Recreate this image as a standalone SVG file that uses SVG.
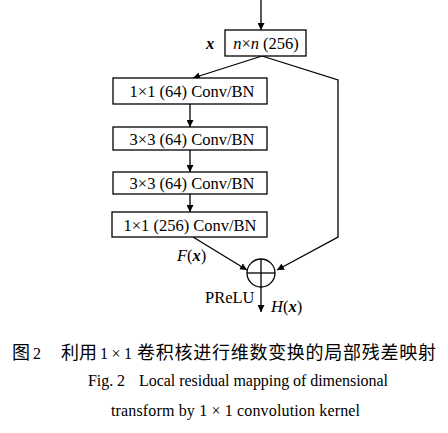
<svg xmlns="http://www.w3.org/2000/svg" width="448" height="433" viewBox="0 0 448 433">
<style>
.box{fill:#fff;stroke:#000;stroke-width:1.3}
.ln{fill:none;stroke:#000;stroke-width:1.3}
.t{font-family:"Liberation Serif",serif;font-size:16.5px;fill:#000}
.i{font-style:italic}
.cn{font-family:"Noto Sans CJK SC",sans-serif;font-size:18px;fill:#000}
.en{font-family:"Liberation Serif",serif;font-size:16px;fill:#000}
</style>
<defs>
<marker id="ah" viewBox="0 0 10 10" refX="10" refY="5" markerWidth="7" markerHeight="7" markerUnits="userSpaceOnUse" orient="auto">
<path d="M0,0 L10,5 L0,10 z" fill="#000"/>
</marker>
</defs>
<rect width="448" height="433" fill="#fff"/>
<g id="connectors">
<line class="ln" x1="261" y1="0" x2="261" y2="30" marker-end="url(#ah)"/>
<polyline class="ln" points="262,56 193,78" marker-end="url(#ah)"/>
<polyline class="ln" points="262,56 338,80 338,237 277,270" marker-end="url(#ah)"/>
<line class="ln" x1="190" y1="104" x2="190" y2="127" marker-end="url(#ah)"/>
<line class="ln" x1="190" y1="150" x2="190" y2="172" marker-end="url(#ah)"/>
<line class="ln" x1="190" y1="194" x2="190" y2="212" marker-end="url(#ah)"/>
<line class="ln" x1="193" y1="237" x2="247" y2="270" marker-end="url(#ah)"/>
<line class="ln" x1="261" y1="287" x2="261" y2="312" marker-end="url(#ah)"/>
</g>
<g id="input">
<rect class="box" x="225" y="30" width="81" height="26"/>
<text class="t" x="266" y="49" text-anchor="middle"><tspan class="i">n</tspan>×<tspan class="i">n</tspan> (256)</text>
<text class="t i" x="206" y="49" font-weight="bold">x</text>
</g>
<g id="conv1">
<rect class="box" x="113" y="78" width="154" height="26"/>
<text class="t" x="192" y="97" text-anchor="middle">1×1 (64) Conv/BN</text>
</g>
<g id="conv2">
<rect class="box" x="113" y="127" width="154" height="23"/>
<text class="t" x="192" y="144.5" text-anchor="middle">3×3 (64) Conv/BN</text>
</g>
<g id="conv3">
<rect class="box" x="113" y="172" width="154" height="22"/>
<text class="t" x="192" y="189" text-anchor="middle">3×3 (64) Conv/BN</text>
</g>
<g id="conv4">
<rect class="box" x="112" y="212" width="155" height="25"/>
<text class="t" x="190" y="230.5" text-anchor="middle">1×1 (256) Conv/BN</text>
</g>
<g id="sum">
<circle class="ln" cx="261" cy="273" r="14"/>
<line class="ln" x1="247" y1="273" x2="275" y2="273"/>
<line class="ln" x1="261" y1="259" x2="261" y2="287"/>
<text class="t" x="177" y="261"><tspan class="i">F</tspan>(<tspan class="i" font-weight="bold">x</tspan>)</text>
<text class="t" x="205" y="303">PReLU</text>
<text class="t" x="271" y="312"><tspan class="i">H</tspan>(<tspan class="i" font-weight="bold">x</tspan>)</text>
</g>
<g id="caption">
<text class="cn" x="12" y="359">图</text>
<text class="en" x="33" y="359" font-size="18">2</text>
<text class="cn" x="61" y="359">利用</text>
<text class="en" x="100" y="359" font-size="18" textLength="32" lengthAdjust="spacing">1 × 1</text>
<text class="cn" x="137" y="359" textLength="299" lengthAdjust="spacing">卷积核进行维数变换的局部残差映射</text>
<text class="en" x="88" y="386" textLength="300" lengthAdjust="spacing">Fig. 2<tspan dx="14">Local residual mapping of dimensional</tspan></text>
<text class="en" x="111" y="416" textLength="249" lengthAdjust="spacing">transform by 1 × 1 convolution kernel</text>
</g>
</svg>
